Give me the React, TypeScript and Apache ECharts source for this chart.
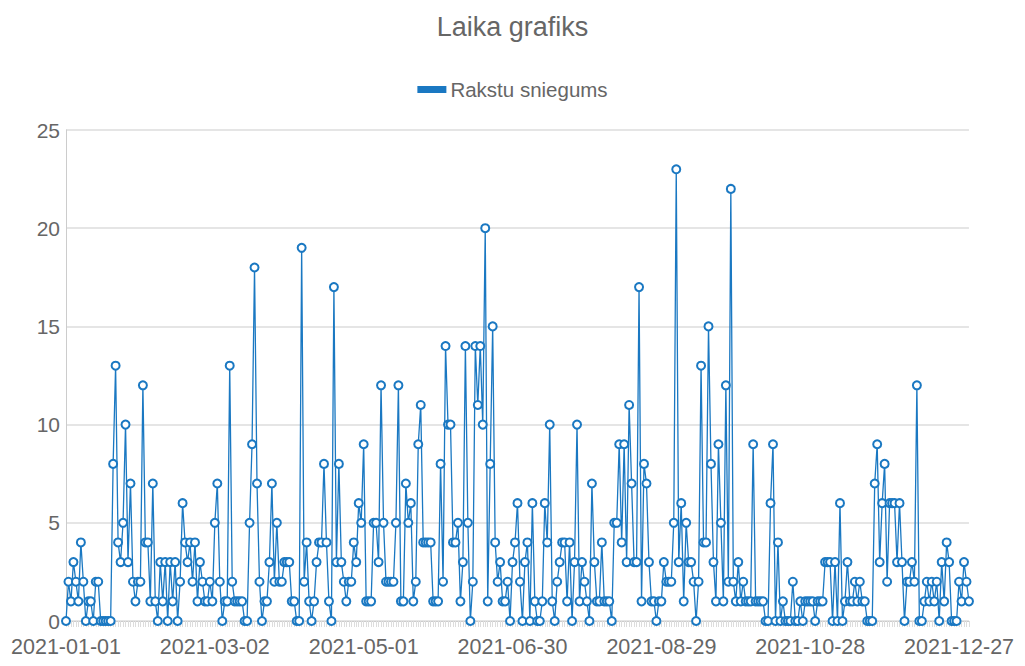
import React, { useEffect, useRef } from "react";
import * as echarts from "echarts";

const TITLE = "Laika grafiks";
const SERIES_NAME = "Rakstu sniegums";
const START_DATE = "2021-01-01";
const DAY_COUNT = 365;

const values: number[] = [
  0, 2, 1, 3, 2, 1, 4, 2, 0, 1,
  1, 0, 2, 2, 0, 0, 0, 0, 0, 8,
  13, 4, 3, 5, 10, 3, 7, 2, 1, 2,
  2, 12, 4, 4, 1, 7, 1, 0, 3, 1,
  3, 0, 3, 1, 3, 0, 2, 6, 4, 3,
  4, 2, 4, 1, 3, 2, 1, 1, 2, 1,
  5, 7, 2, 0, 1, 1, 13, 2, 1, 1,
  1, 1, 0, 0, 5, 9, 18, 7, 2, 0,
  1, 1, 3, 7, 2, 5, 2, 2, 3, 3,
  3, 1, 1, 0, 0, 19, 2, 4, 1, 0,
  1, 3, 4, 4, 8, 4, 1, 0, 17, 3,
  8, 3, 2, 1, 2, 2, 4, 3, 6, 5,
  9, 1, 1, 1, 5, 5, 3, 12, 5, 2,
  2, 2, 2, 5, 12, 1, 1, 7, 5, 6,
  1, 2, 9, 11, 4, 4, 4, 4, 1, 1,
  1, 8, 2, 14, 10, 10, 4, 4, 5, 1,
  3, 14, 5, 0, 2, 14, 11, 14, 10, 20,
  1, 8, 15, 4, 2, 3, 1, 1, 2, 0,
  3, 4, 6, 2, 0, 3, 4, 0, 6, 1,
  0, 0, 1, 6, 4, 10, 1, 0, 2, 3,
  4, 4, 1, 4, 0, 3, 10, 1, 3, 2,
  1, 0, 7, 3, 1, 1, 4, 1, 1, 1,
  0, 5, 5, 9, 4, 9, 3, 11, 7, 3,
  3, 17, 1, 8, 7, 3, 1, 1, 0, 1,
  1, 3, 2, 2, 2, 5, 23, 3, 6, 1,
  5, 3, 3, 2, 0, 2, 13, 4, 4, 15,
  8, 3, 1, 9, 5, 1, 12, 2, 22, 2,
  1, 3, 1, 2, 1, 1, 1, 9, 1, 1,
  1, 1, 0, 0, 6, 9, 0, 4, 0, 1,
  0, 0, 0, 2, 0, 0, 1, 0, 1, 1,
  1, 1, 0, 1, 1, 1, 3, 3, 3, 0,
  3, 0, 6, 0, 1, 3, 1, 1, 2, 1,
  2, 1, 1, 0, 0, 0, 7, 9, 3, 6,
  8, 2, 6, 6, 6, 3, 6, 3, 0, 2,
  2, 3, 2, 12, 0, 0, 1, 2, 1, 2,
  1, 2, 0, 3, 1, 4, 3, 0, 0, 0,
  2, 1, 3, 2, 1,
];

const yTicks = [0, 5, 10, 15, 20, 25];

function buildDates(start: string, n: number): string[] {
  const out: string[] = [];
  const d0 = new Date(start + "T00:00:00Z");
  for (let i = 0; i < n; i++) {
    const d = new Date(d0.getTime() + i * 86400000);
    out.push(d.toISOString().slice(0, 10));
  }
  return out;
}

const dates = buildDates(START_DATE, DAY_COUNT);

export default function App() {
  const ref = useRef<HTMLDivElement>(null);
  useEffect(() => {
    if (!ref.current) return;
    const chart = echarts.init(ref.current, undefined, { renderer: "svg" });
    const font = "'Liberation Sans', Arial, sans-serif";
    chart.setOption({
      animation: false,
      textStyle: { fontFamily: font },
      title: {
        text: TITLE,
        left: "center",
        top: 0,
        textStyle: { fontSize: 27, fontWeight: "normal", color: "#666", fontFamily: font },
      },
      legend: {
        top: 66,
        left: "center",
        data: [SERIES_NAME],
        icon: "rect",
        itemWidth: 27,
        itemHeight: 5,
        itemGap: 10,
        textStyle: { fontSize: 20.5, color: "#666", fontFamily: font },
      },
      grid: { left: 54, right: 40, top: 122, bottom: 31, containLabel: false },
      xAxis: {
        type: "category",
        data: dates,
        boundaryGap: false,
        axisLine: { show: true, lineStyle: { color: "#ccc" } },
        axisTick: { show: true, interval: 0, length: 6, lineStyle: { color: "#ddd" } },
        axisLabel: {
          interval: 59,
          margin: 15,
          fontSize: 21.5,
          color: "#666",
          fontFamily: font,
        },
        splitLine: { show: false },
      },
      yAxis: {
        type: "value",
        min: yTicks[0],
        max: yTicks[yTicks.length - 1],
        interval: 5,
        axisLine: { show: true, lineStyle: { color: "#ccc" } },
        axisTick: { show: false },
        axisLabel: { fontSize: 21, color: "#666", margin: 6, fontFamily: font },
        splitLine: { show: true, lineStyle: { color: "#ddd", width: 1.5 } },
      },
      series: [
        {
          name: SERIES_NAME,
          type: "line",
          data: values,
          symbol: "emptyCircle",
          symbolSize: 8,
          showAllSymbol: true,
          lineStyle: { color: "#1a78c2", width: 1.3 },
          itemStyle: { color: "#1a78c2", borderWidth: 2, borderColor: "#1a78c2" },
        },
      ],
    });
    return () => chart.dispose();
  }, []);
  return <div ref={ref} style={{ width: 1009, height: 650 }} />;
}
